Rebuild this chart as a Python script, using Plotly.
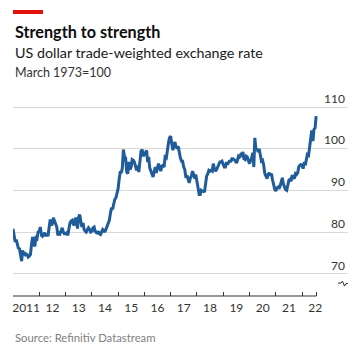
import pandas as pd
import plotly.graph_objects as go

# Semi-monthly readings (1st and 15th of each month), DXY-style index, March 1973=100
v2011 = [80.8, 79.0, 77.6, 78.2, 76.8, 76.2, 76.0, 74.6, 73.0, 75.6, 74.4, 75.2,
         74.2, 74.8, 74.0, 74.2, 74.6, 77.0, 78.8, 77.0, 76.6, 78.6, 78.4, 80.0]
v2012 = [80.2, 81.2, 79.2, 79.0, 79.4, 79.8, 79.0, 79.6, 79.0, 81.2, 83.0, 81.6,
         82.0, 83.4, 82.6, 82.4, 81.2, 79.2, 79.8, 79.6, 80.2, 81.0, 80.0, 79.6]
v2013 = [79.6, 79.8, 79.2, 80.8, 82.0, 82.6, 82.8, 82.0, 81.6, 83.4, 83.0, 80.8,
         83.6, 84.2, 82.6, 81.2, 82.2, 80.6, 80.2, 80.0, 80.6, 81.0, 80.6, 80.0]
v2014 = [80.2, 81.0, 81.2, 80.2, 80.0, 79.6, 80.2, 79.6, 79.4, 80.0, 80.6, 80.4,
         80.0, 80.6, 81.4, 81.8, 82.8, 84.4, 85.8, 85.4, 87.2, 87.8, 88.2, 89.0]
v2015 = [90.4, 92.6, 94.6, 94.2, 95.4, 99.8, 98.0, 97.8, 94.4, 94.0, 96.8, 95.0,
         95.6, 97.4, 97.2, 96.8, 95.6, 94.8, 96.0, 94.4, 97.0, 99.4, 99.8, 98.2]
v2016 = [98.6, 99.2, 99.6, 96.8, 98.0, 95.4, 94.6, 94.2, 93.2, 94.4, 95.6, 94.2,
         95.6, 96.4, 95.6, 94.6, 95.8, 96.0, 95.6, 98.0, 97.8, 100.2, 101.4, 102.6]
v2017 = [103.0, 101.2, 99.6, 101.0, 101.6, 100.4, 100.2, 100.6, 99.0, 97.8, 97.0, 97.0,
         95.6, 95.0, 93.0, 93.6, 92.6, 91.8, 93.0, 93.4, 94.6, 93.6, 92.8, 93.8]
v2018 = [92.2, 90.6, 89.0, 89.0, 90.0, 89.8, 89.8, 89.6, 91.8, 93.4, 94.0, 94.8,
         94.6, 94.8, 94.6, 96.4, 95.2, 94.6, 95.0, 95.6, 96.4, 96.8, 96.8, 97.0]
v2019 = [96.2, 95.6, 95.6, 96.8, 96.2, 96.6, 97.2, 96.8, 97.6, 97.6, 97.4, 97.2,
         96.6, 97.0, 98.2, 98.0, 98.6, 98.4, 99.2, 97.6, 97.4, 98.2, 98.0, 97.2]
v2020 = [96.4, 97.2, 97.8, 99.0, 95.6, 102.6, 99.6, 100.0, 99.2, 100.0, 97.8, 97.0,
         97.2, 96.2, 94.0, 93.4, 92.8, 93.8, 94.2, 93.6, 94.0, 92.6, 91.2, 90.4]
v2021 = [89.8, 90.6, 90.8, 90.4, 91.0, 91.8, 93.0, 91.6, 91.0, 90.2, 90.0, 91.4,
         92.4, 92.6, 92.2, 93.6, 93.2, 92.8, 94.0, 93.8, 94.2, 95.6, 96.0, 96.2]
v2022 = [96.0, 95.2, 96.8, 96.0, 97.4, 98.6, 98.4, 100.4, 103.2, 104.4, 101.8, 104.6,
         105.0, 107.8]

values = v2011 + v2012 + v2013 + v2014 + v2015 + v2016 + v2017 + v2018 + v2019 + v2020 + v2021 + v2022
dates = pd.date_range("2011-01-01", periods=len(values), freq="SMS")

year_starts = [f"{y}-01-01" for y in range(2011, 2023)]
year_labels = ["2011", "12", "13", "14", "15", "16", "17", "18", "19", "20", "21", "22"]
label_positions = [f"{y}-07-02" for y in range(2011, 2023)]
y_ticks = [70, 80, 90, 100, 110]

axis_end = "2022-07-20"
FONT = "Lato"

PLOT_TOP, PLOT_BOTTOM = 88, 296
PLOT_H = PLOT_BOTTOM - PLOT_TOP

fig = go.Figure()
fig.add_trace(go.Scatter(x=dates, y=values, mode="lines",
                         line=dict(color="#1f5c99", width=3),
                         hoverinfo="skip", showlegend=False))

fig.update_layout(
    width=364, height=357,
    margin=dict(l=13, r=16, t=PLOT_TOP, b=357 - PLOT_BOTTOM, pad=0),
    paper_bgcolor="white", plot_bgcolor="white",
    font=dict(family=FONT, color="#333333", size=12),
    xaxis=dict(
        range=["2011-01-01", "2023-10-01"],
        tickmode="array", tickvals=label_positions, ticktext=year_labels,
        ticks="inside", ticklen=0, tickcolor="rgba(0,0,0,0)",
        ticklabelstandoff=3,
        showgrid=False, showline=False, zeroline=False,
        tickfont=dict(size=12, color="#333333"),
        minor=dict(tickmode="array", tickvals=year_starts + [axis_end],
                   ticks="inside", ticklen=4, tickwidth=1, tickcolor="#333333",
                   showgrid=False),
    ),
    yaxis=dict(
        range=[64.65, 114.56], side="right",
        tickmode="array", tickvals=y_ticks,
        ticklabelposition="inside top",
        showgrid=True, gridcolor="#d9d9d9", gridwidth=1,
        zeroline=False, showline=False, ticks="",
        tickfont=dict(size=12, color="#333333"),
    ),
)

# x-axis baseline, only under the data period
fig.add_shape(type="line", xref="x", yref="paper", x0="2011-01-01", x1=axis_end,
              y0=0, y1=0, line=dict(color="#333333", width=1))

# red accent bar
fig.add_shape(type="rect", xref="paper", yref="paper", x0=0, x1=30 / 335,
              y0=(PLOT_BOTTOM - 14) / PLOT_H, y1=(PLOT_BOTTOM - 10) / PLOT_H,
              fillcolor="#e3120b", line=dict(width=0))

# axis break symbol
fig.add_shape(type="path", xref="paper", yref="y", xsizemode="pixel", ysizemode="pixel",
              xanchor=1.0, yanchor=67.5,
              path="M-10,1 L-7,1 L-5.5,3 L-3.5,-2 L-2,0.5 L0,0.5",
              line=dict(color="#333333", width=1))

def txt(text, py, size, color="#1a1a1a", bold=False):
    fig.add_annotation(text=f"<b>{text}</b>" if bold else text,
                       xref="paper", yref="paper", x=0, y=(PLOT_BOTTOM - py) / PLOT_H,
                       xanchor="left", yanchor="middle", showarrow=False,
                       font=dict(family=FONT, size=size, color=color))

txt("Strength to strength", 31.5, 16.2, "#0d0d0d", bold=True)
txt("US dollar trade-weighted exchange rate", 53, 14.3, "#1a1a1a")
txt("March 1973=100", 72.5, 12.5, "#333333")
txt("Source: Refinitiv Datastream", 337, 11.3, "#808080")

fig.write_html("out.html", post_script="document.body.style.margin='0';",
               config={"displayModeBar": False})
